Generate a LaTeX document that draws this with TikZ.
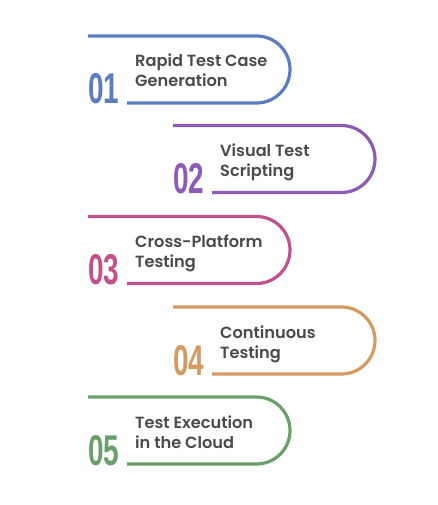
\documentclass[tikz,border=0pt]{standalone}
\usepackage{fontspec}
\setmainfont{Poppins}[BoldFont={* SemiBold}]
\newfontfamily\numfont{Liberation Sans}
\usepackage{tikz}
\usetikzlibrary{positioning}
\definecolor{stepblue}{HTML}{5A7DC1}
\definecolor{steppurple}{HTML}{8C5BB3}
\definecolor{steppink}{HTML}{C2508A}
\definecolor{steptan}{HTML}{D49A62}
\definecolor{stepgreen}{HTML}{6A9F6C}
\definecolor{textgray}{HTML}{4A4A4A}
\tikzset{
  band/.style={line width=3.2pt, rounded corners=33.5pt},
  numlabel/.style={anchor=base west, inner sep=0pt, font=\numfont\bfseries\fontsize{43}{43}\selectfont},
  steplabel/.style={anchor=base west, inner sep=0pt, align=left, text=textgray, font=\bfseries\fontsize{16.2}{20}\selectfont}
}

\begin{document}
\begin{tikzpicture}[x=1pt, y=-1pt]
  \useasboundingbox (0,0) rectangle (437,505);

  % one rounded band per step: x offset / top / colour / number / label
  \foreach \i/\dx/\t/\col/\num/\lbl in {
      1/0/36/stepblue/01/{Rapid Test Case\\Generation},
      2/85/125.5/steppurple/02/{Visual Test\\Scripting},
      3/0/216.5/steppink/03/{Cross-Platform\\Testing},
      4/85/307/steptan/04/{Continuous\\Testing},
      5/0/397/stepgreen/05/{Test Execution\\in the Cloud}} {
    \draw[band, draw=\col] (88+\dx,\t) -- (290+\dx,\t) -- (290+\dx,\t+67) -- (127+\dx,\t+67);
    \node[numlabel, text=\col] (num\i) at (88+\dx,\t+68) {\scalebox{0.65}[1]{\num}};
    % base anchor sits on the last line
    \node[steplabel] (txt\i) at (135+\dx,\t+51) {\lbl};
  }
\end{tikzpicture}
\end{document}
